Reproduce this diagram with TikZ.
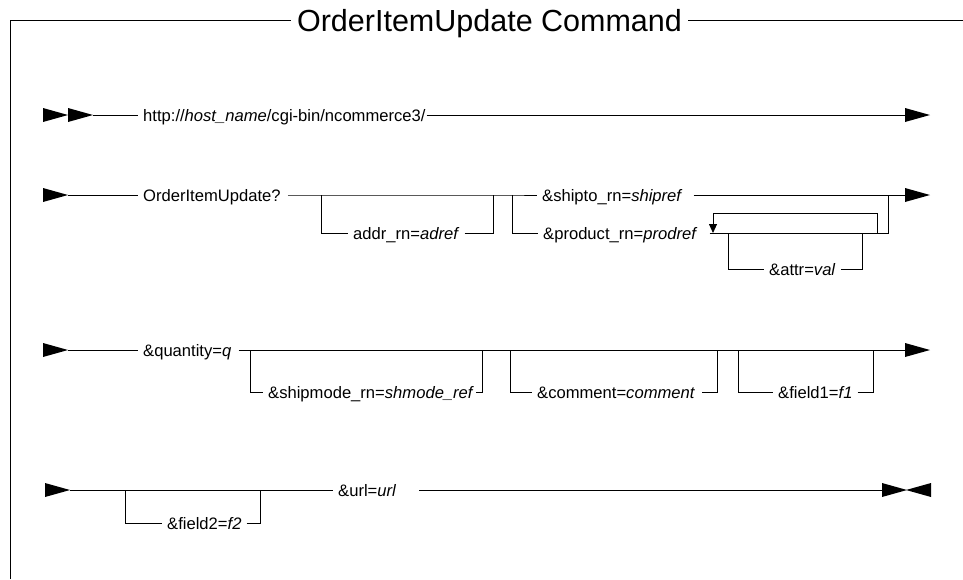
\documentclass[tikz,border=0pt]{standalone}
\usepackage{fontspec}
\setmainfont{Liberation Sans}
\usetikzlibrary{arrows.meta}
\tikzset{
  rail/.style={line width=0.9pt, line join=miter},
  lbl/.style={font=\fontsize{16.6}{20}\selectfont, inner xsep=5pt, inner ysep=0pt, anchor=base west},
  ttlstyle/.style={font=\fontsize{30.5}{34}\selectfont, inner xsep=6pt, inner ysep=0pt, anchor=base},
  fwd/.pic={\fill (0,-7) -- (25,0) -- (0,7) -- cycle;},
  bwd/.pic={\fill (25,-7) -- (0,0) -- (25,7) -- cycle;},
}
\begin{document}
\begin{tikzpicture}[x=1pt,y=-1pt]
\useasboundingbox (0,0) rectangle (963,579);

% frame with title
\coordinate (tl) at (10,20);
\coordinate (bl) at (10,579);
\coordinate (tr) at (963,20);
\node[ttlstyle] (ttl) at (489.5,31) {OrderItemUpdate Command};
\draw[rail] (bl) -- (tl) -- (ttl.west |- tl);
\draw[rail] (ttl.east |- tl) -- (tr);

% ---- row 1 ----
\coordinate (s1) at (93,115);
\coordinate (e1) at (905,115);
\pic at (43,115) {fwd};
\pic at (68,115) {fwd};
\node[lbl] (host) at (138,121) {http://\textit{host\_name}/cgi-bin/ncommerce3/};
\draw[rail] (s1) -- (s1 -| host.west);
\draw[rail] ([xshift=-4pt]host.east |- e1) -- (e1);
\pic at (e1) {fwd};

% ---- row 2 ----
\coordinate (s2) at (68,195);
\coordinate (e2) at (905,195);
\coordinate (ja) at (321,195);
\coordinate (jb) at (493,195);
\coordinate (jc) at (512,195);
\coordinate (jd) at (888,195);
\pic at (43,195) {fwd};
\node[lbl] (oiu) at (138,201) {OrderItemUpdate?};
\node[lbl] (addr) at (348,239) {addr\_rn=\textit{adref}};
\node[lbl] (ship) at (537,201) {\&shipto\_rn=\textit{shipref}};
\node[lbl] (prod) at (538,239) {\&product\_rn=\textit{prodref}};
\node[lbl] (attr) at (764,275) {\&attr=\textit{val}};
\draw[rail] (s2) -- (s2 -| oiu.west);
\draw[rail] ([xshift=2pt]oiu.east |- s2) -- (jc) -- (jc -| ship.west);
\draw[rail] ([xshift=6pt]ship.east |- e2) -- (e2);
\pic at (e2) {fwd};
% optional addr_rn
\draw[rail] (ja) -- ++(0,38) coordinate (ab) -- (ab -| addr.west);
\draw[rail] (addr.east |- ab) -- (ab -| jb) -- (jb);
% product_rn branch
\draw[rail] (jc) -- ++(0,38) coordinate (pb) -- (pb -| prod.west);
\draw[rail] ([xshift=7pt]prod.east |- pb) -- (pb -| jd) -- (jd);
% repeat loop
\coordinate (lpr) at (877,233);
\coordinate (lpl) at (713,233);
\draw[rail, -{Triangle[length=9pt,width=8pt]}] (lpr) -- (877,213) -- (713,213) -- (lpl);
% optional attr
\coordinate (aa) at (728,233);
\coordinate (ab2) at (862,233);
\draw[rail] (aa) -- ++(0,36) coordinate (atb) -- (atb -| attr.west);
\draw[rail] (attr.east |- atb) -- (atb -| ab2) -- (ab2);

% ---- row 3 ----
\coordinate (s3) at (68,350);
\coordinate (e3) at (905,350);
\pic at (43,350) {fwd};
\node[lbl] (qty) at (138,356) {\&quantity=\textit{q}};
\node[lbl] (smd) at (263,398) {\&shipmode\_rn=\textit{shmode\_ref}};
\node[lbl] (cmt) at (532,398) {\&comment=\textit{comment}};
\node[lbl] (fa) at (773,398) {\&field1=\textit{f1}};
\draw[rail] (s3) -- (s3 -| qty.west);
\draw[rail] ([xshift=2pt]qty.east |- e3) -- (e3);
\pic at (e3) {fwd};
\coordinate (m1) at (250,350); \coordinate (m2) at (482,350);
\coordinate (c1) at (510,350); \coordinate (c2) at (717,350);
\coordinate (f1l) at (738,350); \coordinate (f1r) at (873,350);
\draw[rail] (m1) -- ++(0,42) coordinate (mb) -- (mb -| smd.west);
\draw[rail] ([xshift=-3pt]smd.east |- mb) -- (mb -| m2) -- (m2);
\draw[rail] (c1) -- ++(0,42) coordinate (cb) -- (cb -| cmt.west);
\draw[rail] ([xshift=2pt]cmt.east |- cb) -- (cb -| c2) -- (c2);
\draw[rail] (f1l) -- ++(0,42) coordinate (fb) -- (fb -| fa.west);
\draw[rail] (fa.east |- fb) -- (fb -| f1r) -- (f1r);

% ---- row 4 ----
\coordinate (s4) at (70,490);
\coordinate (e4) at (882,490);
\pic at (45,490) {fwd};
\node[lbl] (urlv) at (333,496) {\&url=\textit{url}};
\node[lbl] (fb2) at (162,529) {\&field2=\textit{f2}};
\draw[rail] (s4) -- (s4 -| urlv.west);
\draw[rail] ([xshift=18pt]urlv.east |- e4) -- (e4);
\pic at (e4) {fwd};
\pic at (906,490) {bwd};
\coordinate (g1) at (125,490); \coordinate (g2) at (260,490);
\draw[rail] (g1) -- ++(0,33) coordinate (gb) -- (gb -| fb2.west);
\draw[rail] (fb2.east |- gb) -- (gb -| g2) -- (g2);
\end{tikzpicture}
\end{document}
